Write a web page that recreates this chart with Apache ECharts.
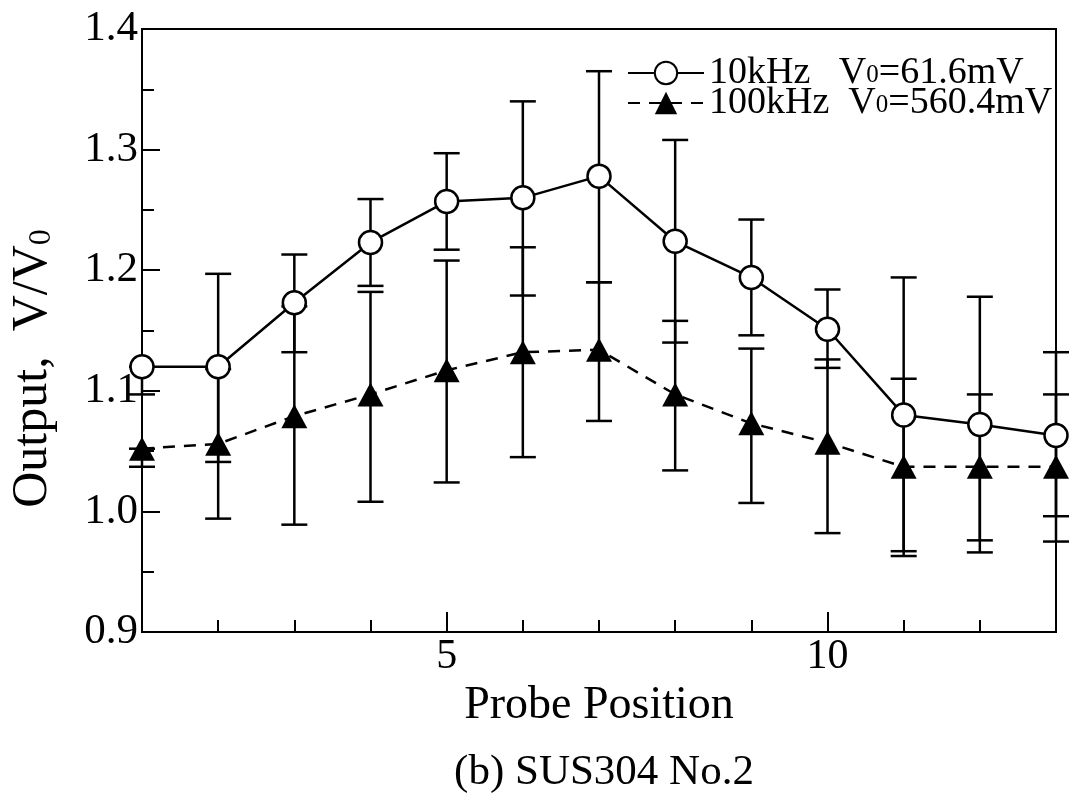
<!DOCTYPE html>
<html>
<head>
<meta charset="utf-8">
<script src="https://cdn.jsdelivr.net/npm/echarts@6/dist/echarts.min.js"></script>
<style>
  html, body { margin: 0; padding: 0; background: #fff; }
  #chart { width: 1071px; height: 798px; }
</style>
</head>
<body>
<div id="chart"></div>
<script>
// probe positions 1..13
const positions = [1, 2, 3, 4, 5, 6, 7, 8, 9, 10, 11, 12, 13];

// 10kHz, V0 = 61.6mV
const out10k  = [1.120, 1.120, 1.173, 1.223, 1.257, 1.260, 1.278, 1.224, 1.194, 1.151, 1.080, 1.072, 1.063];
const low10k  = [1.097, 1.041, 1.132, 1.187, 1.217, 1.179, 1.190, 1.140, 1.146, 1.119, 0.967, 0.966, 0.996];
const high10k = [1.120, 1.197, 1.213, 1.259, 1.297, 1.340, 1.365, 1.308, 1.242, 1.184, 1.194, 1.178, 1.132];

// 100kHz, V0 = 560.4mV
const out100k  = [1.052, 1.056, 1.079, 1.097, 1.117, 1.132, 1.134, 1.097, 1.073, 1.057, 1.037, 1.037, 1.037];
const low100k  = [1.037, 0.994, 0.989, 1.008, 1.024, 1.045, 1.075, 1.034, 1.007, 0.982, 0.963, 0.976, 0.975];
const high100k = [1.052, 1.118, 1.170, 1.182, 1.208, 1.219, 1.190, 1.158, 1.135, 1.126, 1.110, 1.097, 1.097];

const minorTicksX = [2, 3, 4, 6, 7, 8, 9, 11, 12];
const majorTicksX = [5, 10];

const serif = 'Liberation Serif';

const dom = document.getElementById('chart');
const chart = echarts.init(dom, null, { renderer: 'canvas' });

// error bars: vertical line + caps
let errorBar = (params, api) => {
    let x = api.value(0);
    let top = api.coord([x, api.value(2)]);
    let bot = api.coord([x, api.value(1)]);
    let w = 13;
    let st = { stroke: '#000', lineWidth: 2.5 };
    return {
        type: 'group',
        children: [
            { type: 'line', shape: { x1: top[0], y1: top[1], x2: bot[0], y2: bot[1] }, style: st },
            { type: 'line', shape: { x1: top[0] - w, y1: top[1], x2: top[0] + w, y2: top[1] }, style: st },
            { type: 'line', shape: { x1: bot[0] - w, y1: bot[1], x2: bot[0] + w, y2: bot[1] }, style: st }
        ]
    };
};

let pairs = (a, b) => positions.map((p, i) => [p, a[i], b ? b[i] : undefined].filter(v => v !== undefined));

const option = {
    backgroundColor: '#fff',
    animation: false,
    grid: {
        left: 142, right: 15, top: 29, bottom: 166,
        show: true, borderColor: '#000', borderWidth: 2
    },
    legend: {
        orient: 'vertical',
        left: 622, top: 49,
        itemWidth: 76, itemHeight: 28, itemGap: -8,
        data: ['10k', '100k'],
        formatter: n => n === '10k'
            ? '{a|10kHz   V}{s|0}{a|=61.6mV}'
            : '{a|100kHz  V}{s|0}{a|=560.4mV}',
        textStyle: {
            color: '#000',
            rich: {
                a: { fontFamily: serif, fontSize: 38, lineHeight: 30, color: '#000' },
                s: { fontFamily: serif, fontSize: 25, lineHeight: 6, verticalAlign: 'bottom', color: '#000' }
            }
        }
    },
    xAxis: [
        {
            type: 'value', min: 1, max: 13,
            name: 'Probe Position', nameLocation: 'middle', nameGap: 50,
            nameTextStyle: { fontFamily: serif, fontSize: 46, color: '#000' },
            axisLine: { lineStyle: { color: '#000', width: 2 } },
            axisTick: { inside: true, length: 12, customValues: minorTicksX, lineStyle: { color: '#000', width: 2 } },
            axisLabel: { customValues: majorTicksX, margin: 4, fontFamily: serif, fontSize: 42, color: '#000' },
            splitLine: { show: false }
        },
        {
            type: 'value', min: 1, max: 13, position: 'bottom',
            axisLine: { show: false },
            axisTick: { inside: true, length: 20, customValues: majorTicksX, lineStyle: { color: '#000', width: 2 } },
            axisLabel: { show: false },
            splitLine: { show: false }
        }
    ],
    yAxis: {
        type: 'value', min: 0.9, max: 1.4, interval: 0.1,
        name: '{a|Output,  V/V}{s|0}', nameLocation: 'middle', nameGap: 84, nameRotate: 90,
        nameTextStyle: {
            padding: [0, 76, 0, 0],
            rich: {
                a: { fontFamily: serif, fontSize: 50, lineHeight: 50, color: '#000' },
                s: { fontFamily: serif, fontSize: 32, lineHeight: 20, verticalAlign: 'bottom', color: '#000' }
            }
        },
        axisLine: { lineStyle: { color: '#000', width: 2 } },
        axisTick: { inside: true, length: 18, lineStyle: { color: '#000', width: 2 } },
        minorTick: { show: true, splitNumber: 2, length: 12, lineStyle: { color: '#000', width: 2 } },
        axisLabel: { margin: 4, fontFamily: serif, fontSize: 43, color: '#000', formatter: v => v.toFixed(1) },
        splitLine: { show: false }
    },
    graphic: [
        {
            type: 'text', x: 604, y: 773,
            style: { text: '(b) SUS304 No.2', font: '43px "Liberation Serif"', fill: '#000', align: 'center', verticalAlign: 'middle' }
        }
    ],
    series: [
        {
            type: 'custom', name: 'err10k', renderItem: errorBar,
            data: pairs(low10k, high10k), z: 2, silent: true
        },
        {
            type: 'custom', name: 'err100k', renderItem: errorBar,
            data: pairs(low100k, high100k), z: 2, silent: true
        },
        {
            name: '10k', type: 'line',
            data: pairs(out10k),
            symbol: 'circle', symbolSize: 23,
            lineStyle: { color: '#000', width: 2.5 },
            itemStyle: { color: '#fff', borderColor: '#000', borderWidth: 2.5 },
            z: 3
        },
        {
            name: '100k', type: 'line',
            data: pairs(out100k),
            symbol: 'triangle', symbolSize: [26, 24],
            lineStyle: { color: '#000', width: 2.5, type: [12, 9] },
            itemStyle: { color: '#000' },
            z: 3
        }
    ]
};

chart.setOption(option);
window.addEventListener('resize', chart.resize);
</script>
</body>
</html>
